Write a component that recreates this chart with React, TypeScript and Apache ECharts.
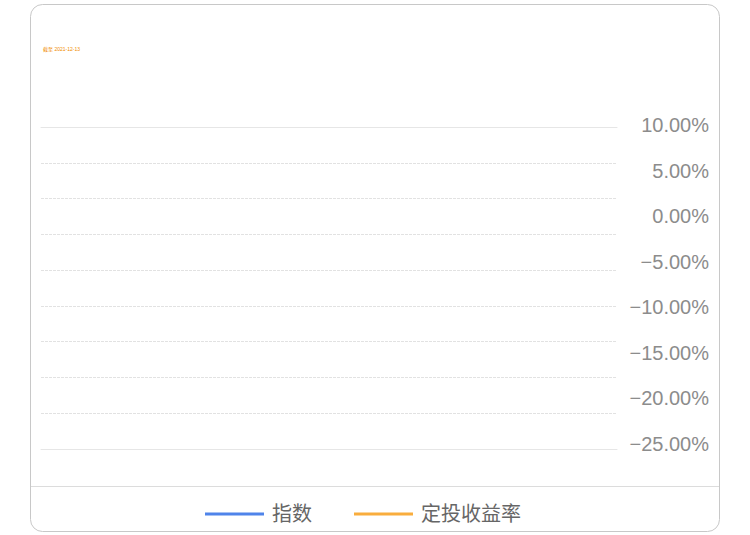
import React, { useEffect, useRef } from "react";
import * as echarts from "echarts";

const categories: string[] = [];
const indexValues: number[] = [];
const rateValues: number[] = [];
const seriesNames = ["指数", "定投收益率"];
const labelValues = [10, 5, 0, -5, -10, -15, -20, -25];
const noteText = "截至 2021-12-13";

const FONT = "'Liberation Sans', 'Noto Sans CJK SC', sans-serif";

function fmt(v: number): string {
  const s = Math.abs(v).toFixed(2) + "%";
  return v < 0 ? "\u2212" + s : s;
}

export default function App() {
  const ref = useRef<HTMLDivElement>(null);
  useEffect(() => {
    if (!ref.current) return;
    const chart = echarts.init(ref.current, undefined, { renderer: "svg" });
    chart.setOption({
      animation: false,
      color: ["#4f84ea", "#f9ad3d"],
      textStyle: { fontFamily: FONT },
      grid: [
        { left: 41, right: 133, top: 127, bottom: 86 },
        { left: 600, right: 41, top: 125, height: 318.5 },
      ],
      xAxis: [
        {
          gridIndex: 0,
          type: "category",
          data: categories,
          axisLine: { show: true, lineStyle: { color: "#e6e6e6", width: 1 } },
          axisTick: { show: false },
          axisLabel: { show: false },
        },
        {
          gridIndex: 0,
          type: "category",
          position: "top",
          data: categories,
          axisLine: { show: true, lineStyle: { color: "#e6e6e6", width: 1 } },
          axisTick: { show: false },
          axisLabel: { show: false },
        },
        {
          gridIndex: 1,
          type: "category",
          data: categories,
          show: false,
        },
      ],
      yAxis: [
        {
          gridIndex: 0,
          type: "value",
          min: 0,
          max: 9,
          interval: 1,
          axisLine: { show: false },
          axisTick: { show: false },
          axisLabel: { show: false },
          splitLine: {
            show: true,
            lineStyle: { color: "#e2e2e2", type: [3, 1], width: 1 },
          },
        },
        {
          gridIndex: 1,
          type: "value",
          position: "right",
          min: -25,
          max: 10,
          axisLine: { show: false },
          axisTick: { show: false },
          splitLine: { show: false },
          axisLabel: {
            show: true,
            inside: true,
            margin: 0,
            customValues: labelValues,
            formatter: (v: number) => fmt(v),
            color: "#8c8c8c",
            fontSize: 20,
            fontFamily: FONT,
          },
        },
      ],
      legend: {
        left: 200,
        top: 499,
        icon: "rect",
        itemWidth: 59,
        itemHeight: 3,
        itemGap: 42,
        data: seriesNames,
        textStyle: {
          color: "#666",
          fontSize: 20,
          fontFamily: FONT,
          padding: [0, 0, 0, 3],
        },
      },
      series: [
        {
          name: seriesNames[0],
          type: "line",
          xAxisIndex: 2,
          yAxisIndex: 1,
          data: indexValues,
          showSymbol: false,
        },
        {
          name: seriesNames[1],
          type: "line",
          xAxisIndex: 2,
          yAxisIndex: 1,
          data: rateValues,
          showSymbol: false,
        },
      ],
      graphic: [
        {
          type: "rect",
          shape: { x: 30.5, y: 4.5, width: 689, height: 527, r: 12 },
          style: { fill: "none", stroke: "#c8c8c8", lineWidth: 1 },
          silent: true,
        },
        {
          type: "line",
          shape: { x1: 31, y1: 486.5, x2: 719, y2: 486.5 },
          style: { stroke: "#dcdcdc", lineWidth: 1 },
          silent: true,
        },
        {
          type: "text",
          x: 43,
          y: 46,
          style: {
            text: noteText,
            fontSize: 5,
            fill: "#f08c00",
            fontFamily: FONT,
          },
          silent: true,
        },
      ],
    });
    return () => chart.dispose();
  }, []);
  return (
    <div
      ref={ref}
      style={{ position: "absolute", left: 0, top: 0, width: 750, height: 535 }}
    />
  );
}
